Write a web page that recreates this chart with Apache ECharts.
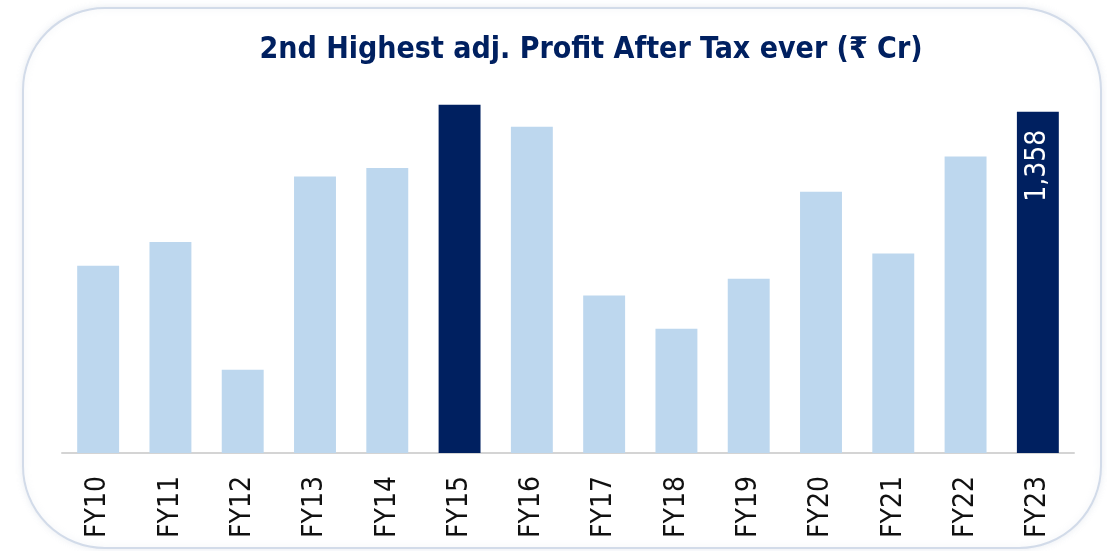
<!DOCTYPE html>
<html>
<head>
<meta charset="utf-8">
<script src="https://cdn.jsdelivr.net/npm/echarts@6/dist/echarts.min.js"></script>
<style>
  html, body { margin: 0; padding: 0; background: #fff; }
  #chart { width: 1107px; height: 551px; }
</style>
</head>
<body>
<div id="chart"></div>
<script>
// adj. PAT in ₹ Cr (only FY23 is labelled)
const years = ['FY10', 'FY11', 'FY12', 'FY13', 'FY14', 'FY15', 'FY16',
               'FY17', 'FY18', 'FY19', 'FY20', 'FY21', 'FY22', 'FY23']
const pat = [745, 840, 331, 1100, 1134, 1386, 1298, 627, 494, 693, 1039, 794, 1180, 1358]
// the two record years are drawn dark
const highlighted = ['FY15', 'FY23']
const labelled = ['FY23']

const LIGHT = '#bdd7ee'
const DARK = '#002060'
const narrow = '"Liberation Sans Narrow", "DejaVu Sans Condensed", "Liberation Sans", sans-serif'

const chart = echarts.init(document.getElementById('chart'), null, { renderer: 'canvas' })

chart.setOption({
  backgroundColor: '#fff',
  animation: false,
  title: {
    text: '2nd Highest adj. Profit After Tax ever (₹ Cr)',
    left: 586, top: 30, textAlign: 'center',
    textStyle: { color: DARK, fontSize: 30, fontWeight: 'bold', fontFamily: narrow },
  },
  graphic: [{
    type: 'rect', silent: true, z: -1,
    shape: { x: 23, y: 8, width: 1078, height: 540, r: 82 },
    style: {
      fill: '#fff', stroke: '#d2dbe9', lineWidth: 2,
      shadowBlur: 6, shadowColor: 'rgba(180,190,210,0.25)',
    },
  }],
  grid: { left: 62, right: 33, top: 76, bottom: 98 },
  xAxis: {
    type: 'category', data: years,
    axisLine: { lineStyle: { color: '#d4d4d4', width: 2 } },
    axisTick: { show: false },
    axisLabel: { rotate: 90, margin: 23, color: '#111', fontSize: 28, fontFamily: narrow },
  },
  yAxis: {
    type: 'value', min: 0, max: 1500,
    show: false, splitLine: { show: false },
  },
  series: [{
    type: 'bar', barCategoryGap: '42%',
    data: years.map((y, i) => ({
      value: pat[i],
      itemStyle: { color: highlighted.includes(y) ? DARK : LIGHT },
      label: {
        show: labelled.includes(y),
        position: 'insideTop', rotate: 90, align: 'right', verticalAlign: 'middle',
        distance: 18, color: '#fff', fontSize: 28, fontFamily: narrow,
        formatter: (p) => p.value.toLocaleString('en-US'),
      },
    })),
  }],
})
</script>
</body>
</html>
